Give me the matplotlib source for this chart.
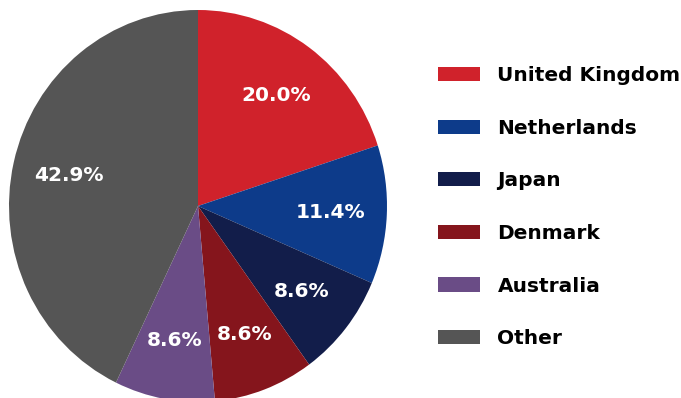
import matplotlib.pyplot as plt

countries = ["United Kingdom", "Netherlands", "Japan", "Denmark", "Australia", "Other"]
counts = [7, 4, 3, 3, 3, 15]
colors = ["#d0222b", "#0d3b8a", "#121d4a", "#85151c", "#6a4c86", "#555555"]

fig = plt.figure(figsize=(6.81, 3.98), dpi=100)
# pie sits a bit off-square and runs past the bottom edge
ax = fig.add_axes([9 / 681, -4 / 398, 378 / 681, 392 / 398])

wedges, texts, autotexts = ax.pie(
    counts,
    colors=colors,
    startangle=90,
    counterclock=False,
    autopct="%1.1f%%",
    pctdistance=0.7,
    textprops={"color": "white", "fontsize": 14.5, "fontweight": "bold"},
)
ax.set_aspect("auto")
ax.set_xlim(-1, 1)
ax.set_ylim(-1, 1)

fig.legend(
    wedges, countries,
    loc="upper left",
    bbox_to_anchor=(438 / 681, 1 - 66 / 398),
    frameon=False,
    borderpad=0,
    borderaxespad=0,
    handlelength=2.1,
    handleheight=0.7,
    handletextpad=0.85,
    labelspacing=1.67,
    prop={"size": 14.5, "weight": "bold"},
)

fig.savefig("out.png", dpi=100)
